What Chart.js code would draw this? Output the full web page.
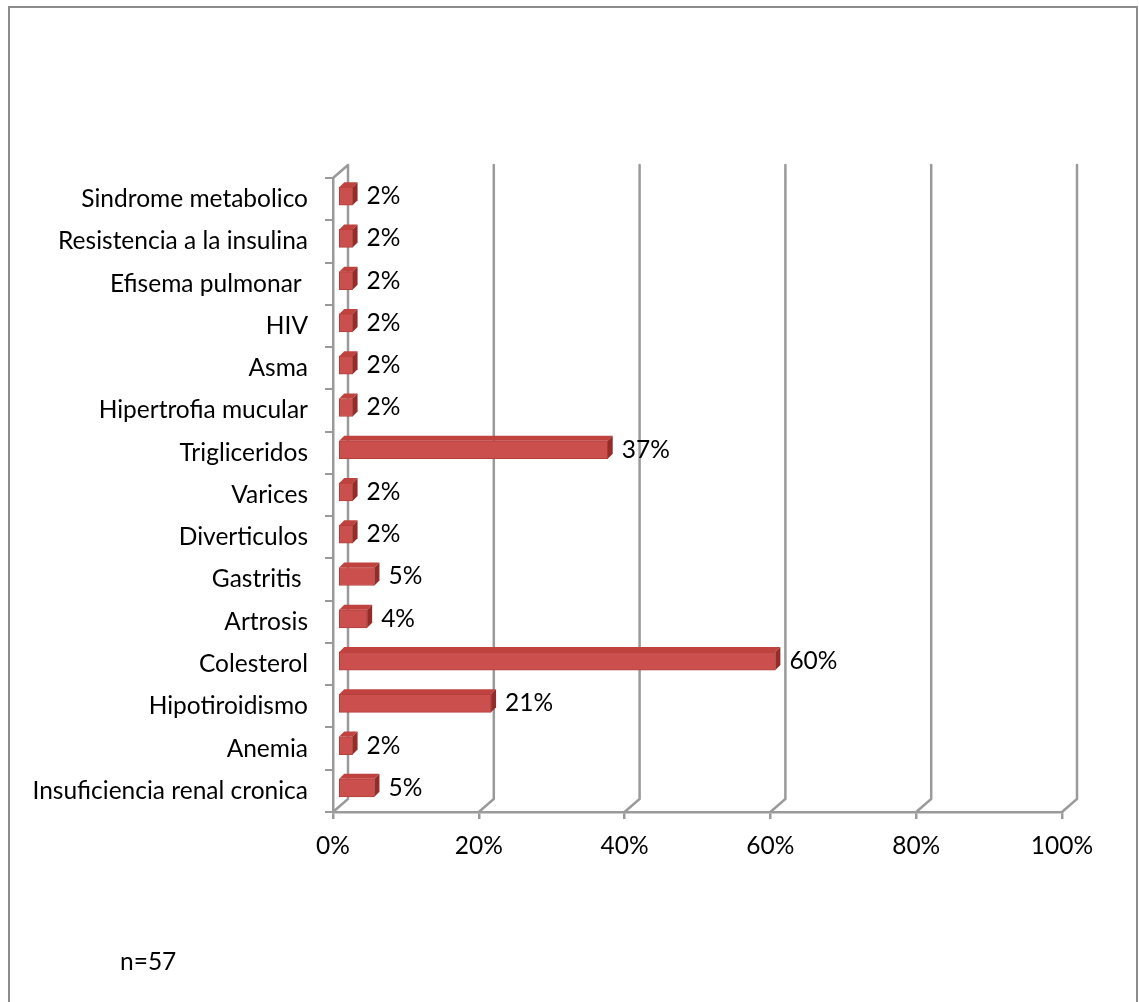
<!DOCTYPE html>
<html>
<head>
<meta charset="utf-8">
<script src="https://cdn.jsdelivr.net/npm/chart.js@4/dist/chart.umd.min.js"></script>
<style>
  html, body { margin: 0; padding: 0; background: #fff; }
  #wrap { width: 1139px; height: 1002px; position: relative; }
</style>
</head>
<body>
<div id="wrap"><canvas id="chart" width="1139" height="1002"></canvas></div>
<script>
// categories, top to bottom
const categories = [
  'Sindrome metabolico',
  'Resistencia a la insulina',
  'Efisema pulmonar ',
  'HIV',
  'Asma',
  'Hipertrofia mucular',
  'Trigliceridos',
  'Varices',
  'Diverticulos',
  'Gastritis ',
  'Artrosis',
  'Colesterol',
  'Hipotiroidismo',
  'Anemia',
  'Insuficiencia renal cronica'
];
const percentages = [2, 2, 2, 2, 2, 2, 37, 2, 2, 5, 4, 60, 21, 2, 5];
const xTicks = [0, 20, 40, 60, 80, 100];
const sampleNote = 'n=57';

const FONT = 'Lato, "Liberation Sans", sans-serif';
const FONT_SIZE = 24.5;
const GRID = '#9a9a9a';
const DEPTH_X = 15, DEPTH_Y = -13;   // back wall offset
const BAR_DX = 5, BAR_DY = -3;       // bars sit a little behind the front plane
const FACE = 5;                      // visible depth of each bar

// outer frame + sample size note
const framePlugin = {
  id: 'frame',
  beforeDraw(chart) {
    const ctx = chart.ctx;
    ctx.save();
    ctx.fillStyle = '#fff';
    ctx.fillRect(0, 0, chart.width, chart.height);
    ctx.strokeStyle = '#8c8c8c';
    ctx.lineWidth = 2;
    ctx.strokeRect(9, 7, 1128, 1010);
    ctx.restore();
  },
  afterDraw(chart) {
    const ctx = chart.ctx;
    ctx.save();
    ctx.fillStyle = '#000';
    ctx.font = FONT_SIZE + 'px ' + FONT;
    ctx.textBaseline = 'middle';
    ctx.textAlign = 'left';
    ctx.fillText(sampleNote, 120, 962);
    ctx.restore();
  }
};

// back wall, floor diagonals, then 3D faces on the bars
const depthPlugin = {
  id: 'depth',
  beforeDatasetsDraw(chart) {
    const ctx = chart.ctx;
    const xs = chart.scales.x;
    const { top, bottom, left } = chart.chartArea;
    ctx.save();
    ctx.strokeStyle = GRID;
    ctx.lineWidth = 2.5;
    ctx.lineCap = 'round';
    ctx.beginPath();
    xTicks.forEach((v) => {
      const x = xs.getPixelForValue(v);
      ctx.moveTo(x + DEPTH_X, top + DEPTH_Y);
      ctx.lineTo(x + DEPTH_X, bottom + DEPTH_Y);
      ctx.lineTo(x, bottom);
    });
    ctx.moveTo(left, top);
    ctx.lineTo(left + DEPTH_X, top + DEPTH_Y);
    ctx.stroke();
    ctx.restore();

    ctx.save();
    ctx.translate(BAR_DX, BAR_DY);
  },
  afterDatasetsDraw(chart) {
    const ctx = chart.ctx;
    const meta = chart.getDatasetMeta(0);
    meta.data.forEach((bar) => {
      const p = bar.getProps(['x', 'y', 'base', 'height'], true);
      const x0 = p.base, x1 = p.x;
      const yT = p.y - p.height / 2, yB = p.y + p.height / 2;
      // top face
      ctx.beginPath();
      ctx.moveTo(x0, yT);
      ctx.lineTo(x0 + FACE, yT - FACE);
      ctx.lineTo(x1 + FACE, yT - FACE);
      ctx.lineTo(x1, yT);
      ctx.closePath();
      ctx.fillStyle = '#c0423f';
      ctx.fill();
      // side face
      ctx.beginPath();
      ctx.moveTo(x1, yT);
      ctx.lineTo(x1 + FACE, yT - FACE);
      ctx.lineTo(x1 + FACE, yB - FACE);
      ctx.lineTo(x1, yB);
      ctx.closePath();
      ctx.fillStyle = '#962c2a';
      ctx.fill();
    });
    ctx.restore();

    // value labels
    ctx.save();
    ctx.fillStyle = '#000';
    ctx.font = FONT_SIZE + 'px ' + FONT;
    ctx.textBaseline = 'middle';
    ctx.textAlign = 'left';
    meta.data.forEach((bar, i) => {
      const p = bar.getProps(['x', 'y'], true);
      ctx.fillText(percentages[i] + '%', p.x + BAR_DX + FACE + 9, p.y + BAR_DY);
    });
    ctx.restore();
  }
};

new Chart(document.getElementById('chart').getContext('2d'), {
  type: 'bar',
  data: {
    labels: categories,
    datasets: [{
      data: percentages,
      backgroundColor: '#cb504d',
      borderColor: '#b23f3c',
      borderWidth: 1,
      borderSkipped: false,
      barThickness: 18
    }]
  },
  options: {
    indexAxis: 'y',
    responsive: false,
    animation: false,
    events: [],
    layout: { padding: { left: 0, top: 178, right: 77, bottom: 0 } },
    plugins: {
      legend: { display: false },
      tooltip: { enabled: false }
    },
    scales: {
      x: {
        min: 0,
        max: 100,
        afterBuildTicks(scale) {
          scale.ticks = xTicks.map((v) => ({ value: v }));
        },
        afterFit(scale) { scale.height = 190; },
        border: { display: true, color: GRID, width: 2.5 },
        grid: { drawOnChartArea: false, drawTicks: true, tickLength: 7, color: GRID, lineWidth: 2.5 },
        ticks: {
          padding: 12,
          color: '#000',
          font: { family: FONT, size: FONT_SIZE },
          maxRotation: 0,
          callback: (v) => v + '%'
        }
      },
      y: {
        afterFit(scale) { scale.width = 333; },
        border: { display: true, color: GRID, width: 2.5 },
        grid: { drawOnChartArea: false, drawTicks: true, tickLength: 8, color: GRID, lineWidth: 2, offset: true },
        ticks: {
          padding: 17,
          color: '#000',
          font: { family: FONT, size: FONT_SIZE },
          autoSkip: false
        }
      }
    }
  },
  plugins: [framePlugin, depthPlugin]
});
</script>
</body>
</html>
